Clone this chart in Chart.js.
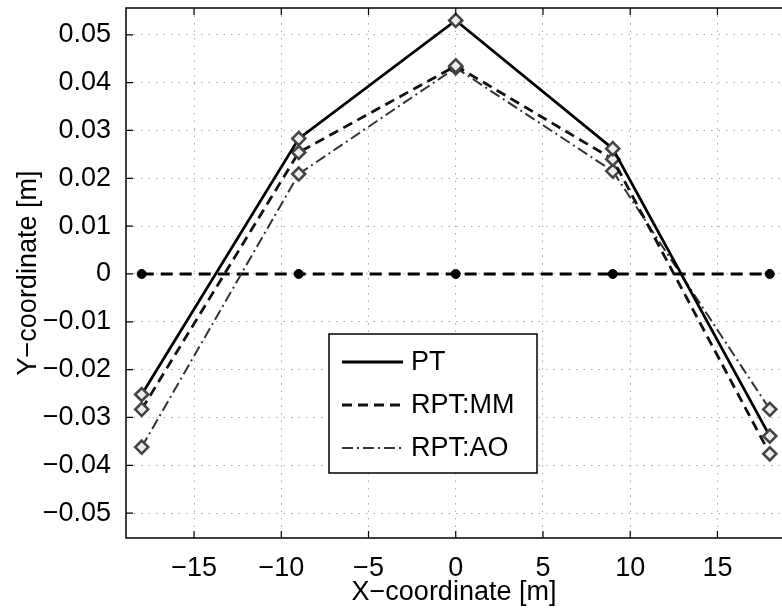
<!DOCTYPE html>
<html>
<head>
<meta charset="utf-8">
<script src="https://cdn.jsdelivr.net/npm/chart.js@4.4.0/dist/chart.umd.min.js"></script>
<style>
  html, body { margin: 0; padding: 0; background: #fff; }
  #wrap { width: 782px; height: 610px; position: relative; }
</style>
</head>
<body>
<div id="wrap"><canvas id="c" width="782" height="610"></canvas></div>
<script>
const xValues   = [-18, -9, 0, 9, 18];
const ptValues  = [-0.0252, 0.0283, 0.0530, 0.0262, -0.0339];
const mmValues  = [-0.0283, 0.0254, 0.0435, 0.0240, -0.0376];
const aoValues  = [-0.0362, 0.0209, 0.0431, 0.0215, -0.0283];
const refValues = [0, 0, 0, 0, 0];
const seriesNames = ['PT', 'RPT:MM', 'RPT:AO'];
const xTitle = 'X\u2212coordinate [m]';
const yTitle = 'Y\u2212coordinate [m]';

const FONT = "'Liberation Sans', Arial, Helvetica, sans-serif";
const toPts = arr => arr.map((v, i) => ({ x: xValues[i], y: v }));
const fmt = (v, d) => {
  if (Math.abs(v) < 1e-9) return '0';
  const s = Math.abs(v).toFixed(d);
  return (v < 0 ? '\u2212' : '') + s;
};

const markerStyle = {
  pointStyle: 'rectRot', pointRadius: 6.5, pointBorderWidth: 2.6,
  pointBorderColor: '#444', pointBackgroundColor: '#eee'
};

const datasets = [
  Object.assign({ label: seriesNames[0], data: toPts(ptValues), borderColor: '#000', borderWidth: 2.8, borderDash: [] }, markerStyle),
  Object.assign({ label: seriesNames[1], data: toPts(mmValues), borderColor: '#111', borderWidth: 2.8, borderDash: [10, 6] }, markerStyle),
  Object.assign({ label: seriesNames[2], data: toPts(aoValues), borderColor: '#333', borderWidth: 2, borderDash: [11, 4, 2, 4] }, markerStyle),
  { label: 'ref', data: toPts(refValues), borderColor: '#000', borderWidth: 3, borderDash: [12, 7],
    pointStyle: 'circle', pointRadius: 4.5, pointBackgroundColor: '#000', pointBorderColor: '#000', pointBorderWidth: 1 }
];
datasets[3].order = 4; datasets[2].order = 3; datasets[1].order = 2; datasets[0].order = 1;

const boxPlugin = {
  id: 'box',
  afterDatasetsDraw(chart) {
    const { ctx, chartArea: a, scales } = chart;
    ctx.save();
    ctx.strokeStyle = '#000';
    ctx.lineWidth = 1.5;
    ctx.setLineDash([]);
    // axes box; the right side of the original figure is cropped off
    ctx.beginPath();
    ctx.moveTo(chart.width, a.top); ctx.lineTo(a.left, a.top);
    ctx.lineTo(a.left, a.bottom); ctx.lineTo(chart.width, a.bottom);
    ctx.stroke();
    const tl = 7;
    ctx.lineWidth = 1.2;
    ctx.beginPath();
    scales.x.ticks.forEach(t => {
      const px = scales.x.getPixelForValue(t.value);
      ctx.moveTo(px, a.bottom); ctx.lineTo(px, a.bottom - tl);
      ctx.moveTo(px, a.top); ctx.lineTo(px, a.top + tl);
    });
    scales.y.ticks.forEach(t => {
      const py = scales.y.getPixelForValue(t.value);
      ctx.moveTo(a.left, py); ctx.lineTo(a.left + tl, py);
    });
    ctx.stroke();

    // legend box
    const lx = a.left + 203, ly = a.top + 326, lw = 208, lh = 139;
    ctx.fillStyle = '#fff';
    ctx.fillRect(lx, ly, lw, lh);
    ctx.lineWidth = 1.5;
    ctx.strokeStyle = '#000';
    ctx.strokeRect(lx, ly, lw, lh);
    ctx.font = "27px " + FONT;
    ctx.textBaseline = 'middle';
    ctx.textAlign = 'left';
    for (let i = 0; i < 3; i++) {
      const ds = chart.data.datasets[i];
      const yy = ly + 28 + i * 43;
      ctx.beginPath();
      ctx.strokeStyle = ds.borderColor;
      ctx.lineWidth = ds.borderWidth;
      ctx.setLineDash(ds.borderDash || []);
      ctx.moveTo(lx + 13, yy); ctx.lineTo(lx + 74, yy);
      ctx.stroke();
      ctx.setLineDash([]);
      ctx.fillStyle = '#000';
      ctx.fillText(ds.label, lx + 82, yy + 1);
    }
    ctx.restore();
  }
};

new Chart(document.getElementById('c'), {
  type: 'line',
  data: { datasets },
  options: {
    responsive: false,
    animation: false,
    devicePixelRatio: 1,
    layout: { autoPadding: false, padding: { top: 8, right: 0, left: 0, bottom: 0 } },
    plugins: { legend: { display: false }, tooltip: { enabled: false } },
    elements: { line: { tension: 0, fill: false } },
    scales: {
      x: {
        type: 'linear', min: -18.9, max: 18.7,
        afterFit: s => { s.height = 72; s.paddingLeft = 0; s.paddingRight = 0; },
        ticks: { stepSize: 5, includeBounds: false, padding: 14, color: '#000',
                 font: { size: 27, family: FONT }, maxRotation: 0,
                 callback: v => fmt(v, 0) },
        grid: { color: '#aaa', lineWidth: 1, drawTicks: false },
        border: { display: false, dash: [1.5, 6] },
        title: { display: true, text: xTitle, color: '#000', font: { size: 27, family: FONT },
                 padding: { top: 0, bottom: 1 } }
      },
      y: {
        type: 'linear', min: -0.0552, max: 0.0556,
        afterFit: s => { s.width = 126; s.paddingTop = 0; s.paddingBottom = 0; },
        ticks: { stepSize: 0.01, includeBounds: false, padding: 15, color: '#000',
                 font: { size: 27, family: FONT },
                 callback: v => fmt(v, 2) },
        grid: { color: '#aaa', lineWidth: 1, drawTicks: false },
        border: { display: false, dash: [1.5, 6] },
        title: { display: true, text: yTitle, color: '#000', font: { size: 27, family: FONT },
                 padding: { top: 12, bottom: 0 } }
      }
    }
  },
  plugins: [boxPlugin]
});
</script>
</body>
</html>
